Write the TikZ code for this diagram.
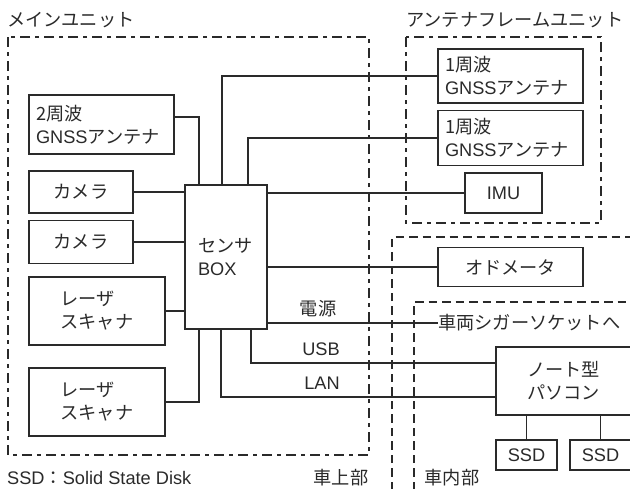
\documentclass[tikz,border=0pt]{standalone}
\usepackage{fontspec}
\setmainfont{Liberation Sans}
\newfontfamily\jp{Noto Sans CJK JP}
\definecolor{ink}{HTML}{2A2A2A}
\begin{document}
\begin{tikzpicture}[x=1pt,y=-1pt,
  every node/.style={font=\fontsize{18.2}{23}\selectfont, text=ink},
  blk/.style={draw=ink, line width=1.2pt, inner sep=0pt, align=center},
  wire/.style={draw=ink, line width=1.2pt},
  dashdotbox/.style={draw=ink, line width=1.2pt, dash pattern=on 10pt off 5pt on 4pt off 5pt},
  dashbox/.style={draw=ink, line width=1.2pt, dash pattern=on 8.5pt off 5pt},
  lbl/.style={inner sep=0pt}]
\useasboundingbox (0,0) rectangle (630,488);
\clip (0,0) rectangle (630,488);
% regions
\draw[dashdotbox] (8,37) rectangle (369,455);
\draw[dashdotbox] (406,37) rectangle (601,223);
\draw[dashbox] (392,490) -- (392,237) -- (640,237);
\draw[dashbox] (414,490) -- (414,302) -- (640,302);
\node[lbl, anchor=west] (mainlbl) at (7,20) {\jp メインユニット};
\node[lbl, anchor=west] (antlbl) at (406,20) {\jp アンテナフレームユニット};
% boxes
\node[blk, minimum width=145, minimum height=59, text width=131, align=left] (gnss2) at (101.5,124.5) {{\jp 2周波}\\GNSS{\jp アンテナ}};
\node[blk, minimum width=104, minimum height=42] (cam1) at (81,192) {\jp カメラ};
\node[blk, minimum width=104, minimum height=43] (cam2) at (81,242) {\jp カメラ};
\node[blk, minimum width=82, minimum height=144, text width=56, align=left] (sensor) at (226,257) {{\jp センサ}\\BOX};
\node[blk, minimum width=136, minimum height=68, align=left] (laser1) at (97,311) {\jp レーザ\\\jp スキャナ};
\node[blk, minimum width=136, minimum height=68, align=left] (laser2) at (97,402) {\jp レーザ\\\jp スキャナ};
\node[blk, minimum width=145, minimum height=54, text width=131, align=left] (gnssa) at (510.5,76) {{\jp 1周波}\\GNSS{\jp アンテナ}};
\node[blk, minimum width=145, minimum height=55, text width=131, align=left] (gnssb) at (510.5,138) {{\jp 1周波}\\GNSS{\jp アンテナ}};
\node[blk, minimum width=77, minimum height=40] (imu) at (503.5,193) {IMU};
\node[blk, minimum width=145, minimum height=39] (odo) at (510.5,267) {\jp オドメータ};
\node[blk, minimum width=135, minimum height=68] (pc) at (563.5,381) {\jp ノート型\\\jp パソコン};
\node[blk, minimum width=61, minimum height=30] (ssda) at (526.5,455) {SSD};
\node[blk, minimum width=61, minimum height=30] (ssdb) at (600.5,455) {SSD};
\node[lbl, anchor=west] (cig) at (438,323) {\jp 車両シガーソケットへ};
% labels
\node[lbl] (pwr) at (318,309) {\jp 電源};
\node[lbl] (usb) at (321,349) {USB};
\node[lbl] (lan) at (322,383) {LAN};
\node[lbl, anchor=west] (ssdnote) at (7,478) {SSD{\jp ：}Solid State Disk};
\node[lbl] (shajo) at (341,478) {\jp 車上部};
\node[lbl] (shanai) at (452,478) {\jp 車内部};
% wires
\draw[wire] (gnss2.east |- 0,117) -| (sensor.north -| 199,0);
\draw[wire] (sensor.north -| 222,0) |- (gnssa.west);
\draw[wire] (sensor.north -| 248,0) |- (gnssb.west);
\draw[wire] (sensor.east |- imu.west) -- (imu.west);
\draw[wire] (cam1.east) -- (cam1.east -| sensor.west);
\draw[wire] (cam2.east) -- (cam2.east -| sensor.west);
\draw[wire] (laser1.east) -- (laser1.east -| sensor.west);
\draw[wire] (laser2.east) -| (sensor.south -| 199,0);
\draw[wire] (sensor.east |- odo.west) -- (odo.west);
\draw[wire] (sensor.east |- 0,323) -- (cig.west);
\draw[wire] (sensor.south -| 251,0) |- (pc.west |- 0,363);
\draw[wire] (sensor.south -| 221,0) |- (pc.west |- 0,397);
\draw[wire] (pc.south -| ssda.north) -- (ssda.north);
\draw[wire] (pc.south -| ssdb.north) -- (ssdb.north);
\end{tikzpicture}
\end{document}
